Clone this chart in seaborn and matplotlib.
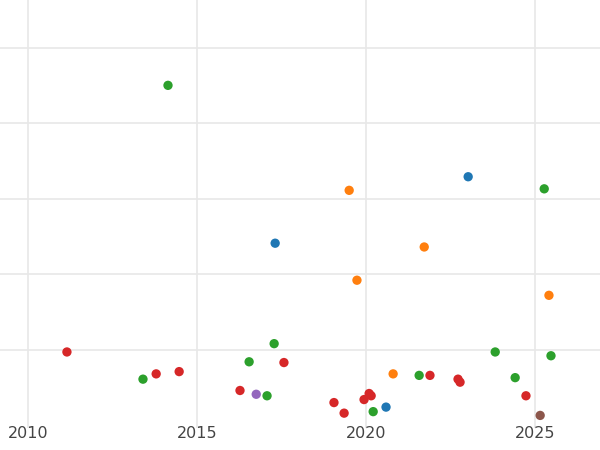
import matplotlib
matplotlib.use("Agg")
import matplotlib.pyplot as plt
import seaborn as sns
import pandas as pd

green_x = [2014.14, 2017.28, 2016.54, 2013.40, 2017.07, 2020.21, 2021.57, 2023.82, 2024.41, 2025.47, 2025.27]
green_y = [4.50, 1.08, 0.84, 0.61, 0.39, 0.18, 0.66, 0.97, 0.63, 0.92, 3.13]
red_x = [2011.15, 2013.79, 2014.47, 2016.27, 2017.57, 2019.05, 2019.35, 2019.94, 2020.09, 2020.15, 2021.89, 2022.72, 2022.78, 2024.73]
red_y = [0.97, 0.68, 0.71, 0.46, 0.83, 0.30, 0.16, 0.34, 0.42, 0.39, 0.66, 0.61, 0.57, 0.39]
blue_x = [2017.31, 2023.02, 2020.59]
blue_y = [2.41, 3.29, 0.24]
orange_x = [2019.50, 2021.72, 2019.73, 2020.80, 2025.41]
orange_y = [3.11, 2.36, 1.92, 0.68, 1.72]
purple_x = [2016.75]
purple_y = [0.41]
brown_x = [2025.15]
brown_y = [0.13]

groups = {"blue": (blue_x, blue_y), "orange": (orange_x, orange_y), "green": (green_x, green_y),
          "red": (red_x, red_y), "purple": (purple_x, purple_y), "brown": (brown_x, brown_y)}
rows = []
for g, (xs, ys) in groups.items():
    for x, y in zip(xs, ys):
        rows.append({"year": x, "value": y, "group": g})
df = pd.DataFrame(rows)
palette = {"blue": "#1f77b4", "orange": "#ff7f0e", "green": "#2ca02c", "red": "#d62728",
           "purple": "#9467bd", "brown": "#8c564b"}

sns.set_theme(style="whitegrid")
fig = plt.figure(figsize=(6, 4.5), dpi=100)
ax = fig.add_axes([0, 0.05, 1, 0.95])
sns.scatterplot(data=df, x="year", y="value", hue="group", palette=palette, s=45,
                edgecolor="none", legend=False, ax=ax)
ax.set_xlim(2009.17, 2026.92)
ax.set_ylim(-0.03, 5.63)
ax.set_xticks([2010, 2015, 2020, 2025])
ax.set_yticks([1, 2, 3, 4, 5])
ax.set_yticklabels([])
ax.tick_params(axis="y", length=0)
ax.tick_params(axis="x", labelsize=11.5, colors="#444444", pad=-1, length=0)
ax.grid(True, color="#e8e8e8", linewidth=1.2)
ax.set_xlabel("")
ax.set_ylabel("")
for s in ax.spines.values():
    s.set_visible(False)
fig.savefig("out.png")
